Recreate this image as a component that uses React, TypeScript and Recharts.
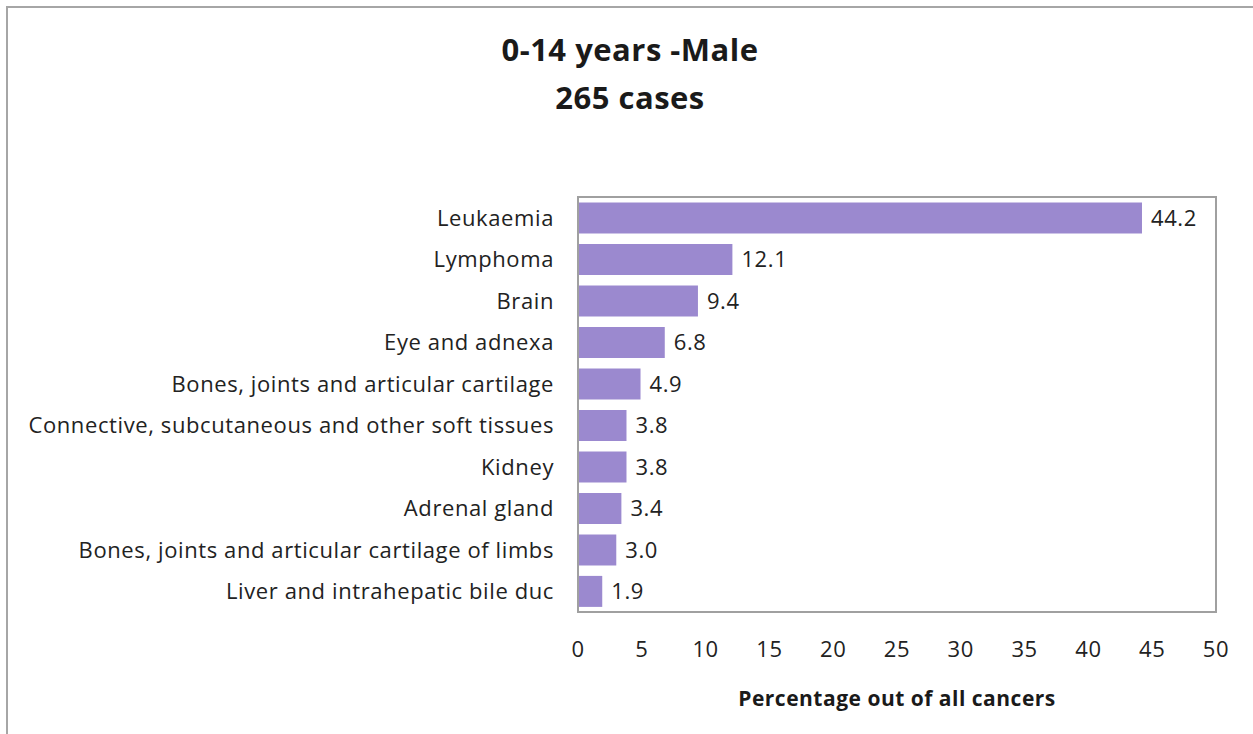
import { Bar, BarChart, LabelList, ReferenceArea, XAxis, YAxis } from "recharts";

const sites = [
    "Leukaemia",
    "Lymphoma",
    "Brain",
    "Eye and adnexa ",
    "Bones, joints and articular cartilage ",
    "Connective, subcutaneous and other soft tissues ",
    "Kidney",
    "Adrenal gland",
    "Bones, joints and articular cartilage of limbs",
    "Liver and intrahepatic bile duc",
]
const percentages = [44.2, 12.1, 9.4, 6.8, 4.9, 3.8, 3.8, 3.4, 3.0, 1.9]
const xTicks = [0, 5, 10, 15, 20, 25, 30, 35, 40, 45, 50]

const data = sites.map((site, i) => ({ site, pct: percentages[i] }))

const font = "'Open Sans', sans-serif"
const textStyle = { fill: "#222", fontSize: 22, fontFamily: font, letterSpacing: 0.6 }

export default function App() {
    return (
        <div style={{ position: "absolute", left: 6, top: 6, width: 1250, height: 730, border: "2px solid #a6a6a6", background: "#fff", fontFamily: font }}>
            <div style={{ position: "absolute", left: 0, width: 1244, top: 17, textAlign: "center", fontWeight: 700, fontSize: 31, letterSpacing: 0.5, lineHeight: "48px", color: "#1a1a1a" }}>
                <div>0-14 years -Male</div>
                <div>265 cases</div>
            </div>
            <BarChart
                width={1248}
                height={728}
                data={data}
                layout="vertical"
                margin={{ top: 189, right: 40, bottom: 0, left: 0 }}
                barCategoryGap="13%"
                style={{ position: "absolute", left: 0, top: 0 }}
            >
                <XAxis
                    type="number"
                    domain={[0, 50]}
                    ticks={xTicks}
                    interval={0}
                    tickLine={false}
                    tickSize={0}
                    tickMargin={29}
                    axisLine={{ stroke: "#a0a0a0", strokeWidth: 2 }}
                    tick={textStyle}
                    height={124}
                    label={{ value: "Percentage out of all cancers", position: "insideBottom", offset: 30, fill: "#1a1a1a", fontSize: 21, fontWeight: 700, fontFamily: font, letterSpacing: 0.5 }}
                />
                <YAxis
                    type="category"
                    dataKey="site"
                    width={570}
                    interval={0}
                    tickLine={false}
                    tickSize={0}
                    tickMargin={24}
                    axisLine={{ stroke: "#a0a0a0", strokeWidth: 2 }}
                    tick={textStyle}
                />
                <ReferenceArea x1={0} x2={50} fill="none" stroke="#a0a0a0" strokeWidth={2} ifOverflow="visible" />
                <Bar dataKey="pct" fill="#9b89cf" isAnimationActive={false}>
                    <LabelList dataKey="pct" position="right" offset={9} {...textStyle} formatter={(v: any) => Number(v).toFixed(1)} />
                </Bar>
            </BarChart>
        </div>
    )
}
